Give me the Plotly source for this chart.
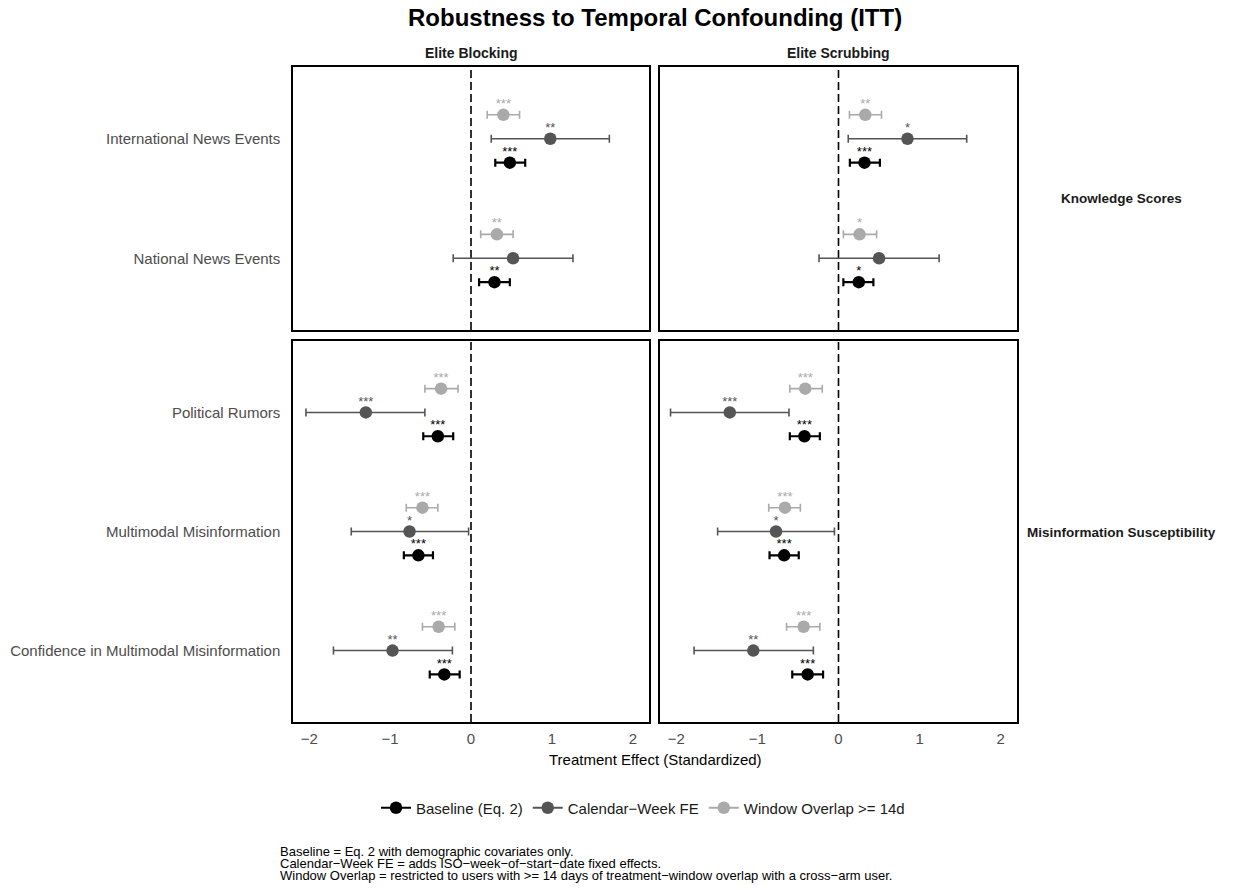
import plotly.graph_objects as go

# ---- data -------------------------------------------------------------
knowledge_outcomes = ["International News Events", "National News Events"]
misinfo_outcomes = ["Political Rumors", "Multimodal Misinformation",
                    "Confidence in Multimodal Misinformation"]
arms = ["Elite Blocking", "Elite Scrubbing"]
model_names = ["Baseline (Eq. 2)", "Calendar−Week FE", "Window Overlap >= 14d"]

# order of values: International, National, Political, Multimodal, Confidence
blocking_baseline_est = [0.48, 0.29, -0.41, -0.65, -0.33]
blocking_baseline_lo = [0.30, 0.10, -0.59, -0.83, -0.51]
blocking_baseline_hi = [0.67, 0.48, -0.22, -0.47, -0.14]
blocking_baseline_sig = ["***", "**", "***", "***", "***"]

blocking_calendar_est = [0.98, 0.52, -1.30, -0.76, -0.97]
blocking_calendar_lo = [0.25, -0.22, -2.04, -1.48, -1.70]
blocking_calendar_hi = [1.71, 1.26, -0.57, -0.03, -0.23]
blocking_calendar_sig = ["**", "", "***", "*", "**"]

blocking_window_est = [0.40, 0.32, -0.37, -0.60, -0.40]
blocking_window_lo = [0.20, 0.12, -0.57, -0.80, -0.60]
blocking_window_hi = [0.60, 0.52, -0.16, -0.41, -0.20]
blocking_window_sig = ["***", "**", "***", "***", "***"]

scrubbing_baseline_est = [0.32, 0.25, -0.42, -0.67, -0.38]
scrubbing_baseline_lo = [0.14, 0.06, -0.60, -0.85, -0.57]
scrubbing_baseline_hi = [0.51, 0.43, -0.23, -0.49, -0.19]
scrubbing_baseline_sig = ["***", "*", "***", "***", "***"]

scrubbing_calendar_est = [0.85, 0.50, -1.34, -0.77, -1.05]
scrubbing_calendar_lo = [0.12, -0.24, -2.07, -1.49, -1.78]
scrubbing_calendar_hi = [1.58, 1.24, -0.61, -0.05, -0.31]
scrubbing_calendar_sig = ["*", "", "***", "*", "**"]

scrubbing_window_est = [0.33, 0.26, -0.41, -0.66, -0.43]
scrubbing_window_lo = [0.135, 0.06, -0.60, -0.86, -0.64]
scrubbing_window_hi = [0.53, 0.47, -0.20, -0.47, -0.23]
scrubbing_window_sig = ["**", "*", "***", "***", "***"]

x_ticks = [-2, -1, 0, 1, 2]

# ---- styling ----------------------------------------------------------
FONT = "Liberation Sans, Arial, sans-serif"
W, H = 1233, 890
colors = ["#000000", "#555555", "#AAAAAA"]
bar_thickness = [2.2, 1.6, 1.6]
dodge = [-0.2, 0.0, 0.2]          # baseline below, window above
star_lift = 0.085
marker_size = 12.5

series = {
    "Elite Blocking": [
        (blocking_baseline_est, blocking_baseline_lo, blocking_baseline_hi, blocking_baseline_sig),
        (blocking_calendar_est, blocking_calendar_lo, blocking_calendar_hi, blocking_calendar_sig),
        (blocking_window_est, blocking_window_lo, blocking_window_hi, blocking_window_sig),
    ],
    "Elite Scrubbing": [
        (scrubbing_baseline_est, scrubbing_baseline_lo, scrubbing_baseline_hi, scrubbing_baseline_sig),
        (scrubbing_calendar_est, scrubbing_calendar_lo, scrubbing_calendar_hi, scrubbing_calendar_sig),
        (scrubbing_window_est, scrubbing_window_lo, scrubbing_window_hi, scrubbing_window_sig),
    ],
}

# panel rows: outcome labels listed top to bottom; y positions counted from the bottom
rows = [knowledge_outcomes, misinfo_outcomes]
row_slices = [slice(0, 2), slice(2, 5)]

# pixel boxes of the panels -> paper domains
col_px = [(293, 649), (660, 1017)]
row_px = [(67, 330), (341, 722)]


def xdom(c):
    a, b = col_px[c]
    return [a / W, b / W]


def ydom(r):
    a, b = row_px[r]
    return [1 - b / H, 1 - a / H]


fig = go.Figure()
layout = {}

for r, outcomes in enumerate(rows):
    n = len(outcomes)
    ypos = [n - i for i in range(n)]
    for c, arm in enumerate(arms):
        k = r * 2 + c + 1
        xa = "x" if k == 1 else f"x{k}"
        ya = "y" if k == 1 else f"y{k}"
        for m, (est, lo, hi, sig) in enumerate(series[arm]):
            e = est[row_slices[r]]
            l = lo[row_slices[r]]
            h = hi[row_slices[r]]
            s = sig[row_slices[r]]
            yy = [p + dodge[m] for p in ypos]
            fig.add_trace(go.Scatter(
                x=e, y=yy, xaxis=xa, yaxis=ya, mode="markers",
                marker=dict(size=marker_size, color=colors[m]),
                error_x=dict(type="data", symmetric=False,
                             array=[hv - ev for hv, ev in zip(h, e)],
                             arrayminus=[ev - lv for ev, lv in zip(e, l)],
                             color=colors[m], thickness=bar_thickness[m], width=4),
                showlegend=False, hoverinfo="skip", cliponaxis=False,
            ))
            fig.add_trace(go.Scatter(
                x=e, y=[p + star_lift for p in yy], xaxis=xa, yaxis=ya,
                mode="text", text=s, textposition="middle center",
                textfont=dict(family=FONT, size=13, color=colors[m]),
                showlegend=False, hoverinfo="skip", cliponaxis=False,
            ))
        # zero reference line
        fig.add_shape(type="line", xref=xa, yref=f"{ya} domain", x0=0, x1=0, y0=0, y1=1,
                      line=dict(color="black", width=1.6, dash="8px,4px"), layer="below")
        axis_common = dict(showgrid=False, zeroline=False, showline=True, mirror=True,
                           linecolor="black", linewidth=1.5, ticks="")
        layout["xaxis" if k == 1 else f"xaxis{k}"] = dict(
            axis_common, domain=xdom(c), range=[-2.2, 2.2], anchor=ya,
            tickvals=x_ticks, showticklabels=(r == 1),
            tickfont=dict(family=FONT, size=15, color="#4D4D4D"), ticklabelstandoff=2,
        )
        layout["yaxis" if k == 1 else f"yaxis{k}"] = dict(
            axis_common, domain=ydom(r), range=[0.4, n + 0.6], anchor=xa,
            tickvals=ypos, ticktext=outcomes, showticklabels=(c == 0),
            tickfont=dict(family=FONT, size=15, color="#4D4D4D"), ticklabelstandoff=8,
        )

# legend keys
for m, name in enumerate(model_names):
    fig.add_trace(go.Scatter(
        x=[None], y=[None], mode="lines+markers", name=name,
        line=dict(color=colors[m], width=2),
        marker=dict(size=marker_size, color=colors[m]),
    ))

annotations = [
    dict(text="<b>Robustness to Temporal Confounding (ITT)</b>", x=655 / W, y=1 - 18 / H,
         font=dict(family=FONT, size=24, color="black")),
    dict(text="<b>Elite Blocking</b>", x=471 / W, y=1 - 53 / H,
         font=dict(family=FONT, size=14, color="#1A1A1A")),
    dict(text="<b>Elite Scrubbing</b>", x=838 / W, y=1 - 53 / H,
         font=dict(family=FONT, size=14, color="#1A1A1A")),
    dict(text="<b>Knowledge Scores</b>", x=1121 / W, y=1 - 199 / H,
         font=dict(family=FONT, size=13.5, color="#1A1A1A")),
    dict(text="<b>Misinformation Susceptibility</b>", x=1121 / W, y=1 - 532 / H,
         font=dict(family=FONT, size=13.5, color="#1A1A1A")),
    dict(text="Treatment Effect (Standardized)", x=655 / W, y=1 - 759 / H,
         font=dict(family=FONT, size=15, color="black")),
]
caption_lines = [
    "Baseline = Eq. 2 with demographic covariates only.",
    "Calendar−Week FE = adds ISO−week−of−start−date fixed effects.",
    "Window Overlap = restricted to users with >= 14 days of treatment−window overlap with a cross−arm user.",
]
for i, line in enumerate(caption_lines):
    annotations.append(dict(text=line, x=278 / W, y=1 - (851 + 12 * i) / H, xanchor="left",
                            font=dict(family=FONT, size=13, color="black")))
for a in annotations:
    a.update(xref="paper", yref="paper", showarrow=False)
    a.setdefault("xanchor", "center")
    a.setdefault("yanchor", "middle")

fig.update_layout(
    width=W, height=H, margin=dict(l=0, r=0, t=0, b=0),
    plot_bgcolor="white", paper_bgcolor="white",
    font=dict(family=FONT),
    annotations=annotations,
    legend=dict(orientation="h", x=643 / W, y=1 - 808 / H, xanchor="center", yanchor="middle",
                font=dict(family=FONT, size=15, color="#1A1A1A"), itemwidth=30),
    **layout,
)

fig.write_html("out.html")
